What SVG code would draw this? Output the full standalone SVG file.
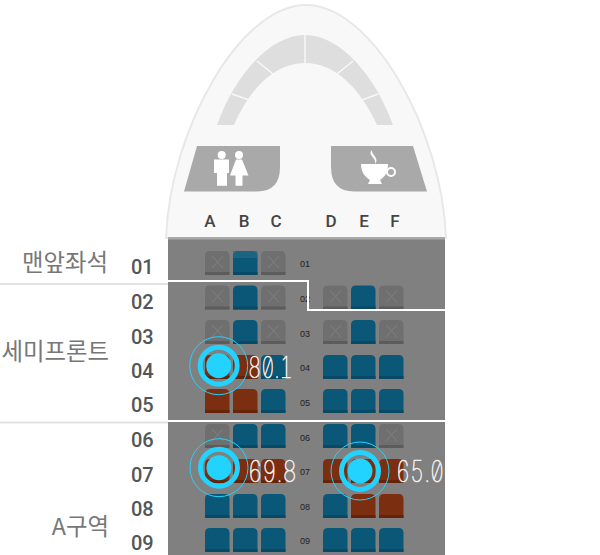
<svg xmlns="http://www.w3.org/2000/svg" width="600" height="555" viewBox="0 0 600 555">
<style>
.col{font:500 17px Roboto,"Liberation Sans",sans-serif;fill:#444;text-anchor:middle}
.row{font:500 20px Roboto,"Liberation Sans",sans-serif;fill:#555}
.zone{font:400 23.400px "Noto Sans CJK KR",sans-serif;fill:#777;text-anchor:end}
.num{font:9px "Liberation Sans",sans-serif;fill:#222;text-anchor:middle}
.lcd{font:100 30px Inter,Roboto,sans-serif;font-feature-settings:"zero","tnum";fill:#fff;stroke:#f6ece6;stroke-width:.7}
.w{stroke:#fff;stroke-width:2;fill:none}
.g{stroke:#e2e2e2;stroke-width:2;fill:none}
.p{fill:#22d3ff}
.r1{fill:none;stroke:#22d3ff;stroke-width:5}
.r2{fill:none;stroke:#22d3ff;stroke-width:1}
</style>
<defs>
<g id="blue"><path d="M0 24V5Q0 0 5 0H19.500Q24.500 0 24.500 5V24Z" fill="#0b5777"/><rect y="21" width="24.500" height="3" fill="#084a66"/></g>
<g id="red"><path d="M0 24V5Q0 0 5 0H19.500Q24.500 0 24.500 5V24Z" fill="#7b2e10"/><rect y="21" width="24.500" height="3" fill="#652409"/></g>
<g id="gray"><path d="M0 24V5Q0 0 5 0H19.500Q24.500 0 24.500 5V24Z" fill="#6f6f6f"/><rect y="21" width="24.500" height="3" fill="#5c5c5c"/><path d="M7 5L18 17M18 5L7 17" stroke="#808080" stroke-width="1"/></g>
</defs>
<rect width="600" height="555" fill="#fff"/>
<g id="nose">
<path d="M166 238C170 130 240 5 306 5C372 5 442 130 446 238Z" fill="#f8f8f8" stroke="#e8e8e8" stroke-width="2"/>
<path d="M217 125C235 75 270 35 305 35C340 35 375 75 393 125H377C360 88 335 63 305 63C275 63 250 88 234 125Z" fill="#dedede"/>
<path d="M305 34V64M257 61L273 74M232 94L249 100M353 61L337 74M378 94L362 100" stroke="#f8f8f8" stroke-width="1.500" fill="none"/>
</g>
<g id="lavatory">
<path d="M197 146H280V167Q280 191.500 257 191.500H184Z" fill="#a9a9a9"/>
<g fill="#fff">
<circle cx="221.700" cy="155" r="4"/><path d="M214 159.500H229V173H227V185.700H217V173H214Z"/>
<circle cx="239" cy="155" r="4"/><path d="M236 159.500H242L248.500 175.500H242.500V185.700H235.500V175.500H230Z"/>
</g>
</g>
<g id="galley">
<path d="M331 146H413L427 191.500H354Q331 191.500 331 167Z" fill="#a9a9a9"/>
<g fill="#fff">
<path d="M361 164H388C388 172 385 177 380 180L382 184H368L370 180C365 177 361 172 361 164Z"/>
<circle cx="391" cy="172" r="4" fill="none" stroke="#fff" stroke-width="2"/>
<path d="M372 150C367 155 377 158 375 164C380 158 371 155 372 150Z"/>
</g>
</g>
<g id="column-labels">
<text class="col" x="210" y="227">A</text><text class="col" x="244" y="227">B</text><text class="col" x="276" y="227">C</text>
<text class="col" x="331" y="227">D</text><text class="col" x="364" y="227">E</text><text class="col" x="395" y="227">F</text>
</g>
<g id="cabin">
<rect x="168" y="237" width="277" height="318" fill="#808080"/>
<rect x="168" y="237" width="277" height="2.500" fill="#a9a9a9"/>
</g>
<g id="seats">
<use href="#gray" x="205" y="251"/><use href="#blue" x="233" y="251"/><rect x="233" y="251" width="24.500" height="7" fill="#2b6a85" opacity=".6"/><use href="#gray" x="261" y="251"/>
<use href="#gray" x="205" y="285.500"/><use href="#blue" x="233" y="285.500"/><use href="#gray" x="261" y="285.500"/>
<use href="#gray" x="323" y="285.500"/><use href="#blue" x="351" y="285.500"/><use href="#gray" x="379" y="285.500"/>
<use href="#gray" x="205" y="320"/><use href="#blue" x="233" y="320"/><use href="#gray" x="261" y="320"/>
<use href="#gray" x="323" y="320"/><use href="#blue" x="351" y="320"/><use href="#gray" x="379" y="320"/>
<use href="#red" x="205" y="355"/><use href="#red" x="233" y="355"/><use href="#blue" x="261" y="355"/>
<use href="#blue" x="323" y="355"/><use href="#blue" x="351" y="355"/><use href="#blue" x="379" y="355"/>
<use href="#red" x="205" y="389"/><use href="#red" x="233" y="389"/><use href="#blue" x="261" y="389"/>
<use href="#blue" x="323" y="389"/><use href="#blue" x="351" y="389"/><use href="#blue" x="379" y="389"/>
<use href="#gray" x="205" y="424"/><use href="#blue" x="233" y="424"/><use href="#blue" x="261" y="424"/>
<use href="#blue" x="323" y="424"/><use href="#blue" x="351" y="424"/><use href="#gray" x="379" y="424"/>
<use href="#red" x="205" y="459"/><use href="#red" x="233" y="459"/><use href="#red" x="261" y="459"/>
<use href="#red" x="323" y="459"/><use href="#red" x="351" y="459"/><use href="#red" x="379" y="459"/>
<use href="#blue" x="205" y="494"/><use href="#blue" x="233" y="494"/><use href="#blue" x="261" y="494"/>
<use href="#blue" x="323" y="494"/><use href="#red" x="351" y="494"/><use href="#red" x="379" y="494"/>
<use href="#blue" x="205" y="528"/><use href="#blue" x="233" y="528"/><use href="#blue" x="261" y="528"/>
<use href="#blue" x="323" y="528"/><use href="#blue" x="351" y="528"/><use href="#blue" x="379" y="528"/>
</g>
<g id="seat-row-numbers">
<text class="num" x="305" y="267">01</text><text class="num" x="305" y="302">02</text><text class="num" x="305" y="337">03</text>
<text class="num" x="305" y="371">04</text><text class="num" x="305" y="406">05</text><text class="num" x="305" y="441">06</text>
<text class="num" x="305" y="475">07</text><text class="num" x="305" y="510">08</text><text class="num" x="305" y="544">09</text>
</g>
<g id="connectors">
<path class="g" d="M0 284H168M0 422.500H168"/>
<path class="w" d="M168 281H308V310H445M168 421H445"/>
</g>
<g id="row-labels">
<text class="row" x="131" y="274">01</text><text class="row" x="131" y="309">02</text><text class="row" x="131" y="344">03</text>
<text class="row" x="131" y="378">04</text><text class="row" x="131" y="412">05</text><text class="row" x="131" y="447">06</text>
<text class="row" x="131" y="482">07</text><text class="row" x="131" y="516">08</text><text class="row" x="131" y="550">09</text>
</g>
<g id="zone-labels">
<text class="zone" x="108" y="271">맨앞좌석</text>
<text class="zone" x="109" y="360">세미프론트</text>
<text class="zone" x="109" y="535">A구역</text>
</g>
<g id="sensor-1"><circle class="r2" cx="218.700" cy="365.700" r="29"/><circle class="r1" cx="218.700" cy="365.700" r="18.500"/><circle class="p" cx="218.700" cy="365.700" r="12.500"/>
<text class="lcd" transform="translate(248 378) scale(.68 1)">80.1</text></g>
<g id="sensor-2"><circle class="r2" cx="219" cy="467.700" r="29"/><circle class="r1" cx="219" cy="467.700" r="18.500"/><circle class="p" cx="219" cy="467.700" r="12.500"/>
<text class="lcd" transform="translate(248 482) scale(.74 1)">69.8</text></g>
<g id="sensor-3"><circle class="r2" cx="360" cy="471" r="29"/><circle class="r1" cx="360" cy="471" r="18.500"/><circle class="p" cx="360" cy="471" r="12.500"/>
<text class="lcd" transform="translate(396 482) scale(.73 1)">65.0</text></g>
</svg>
